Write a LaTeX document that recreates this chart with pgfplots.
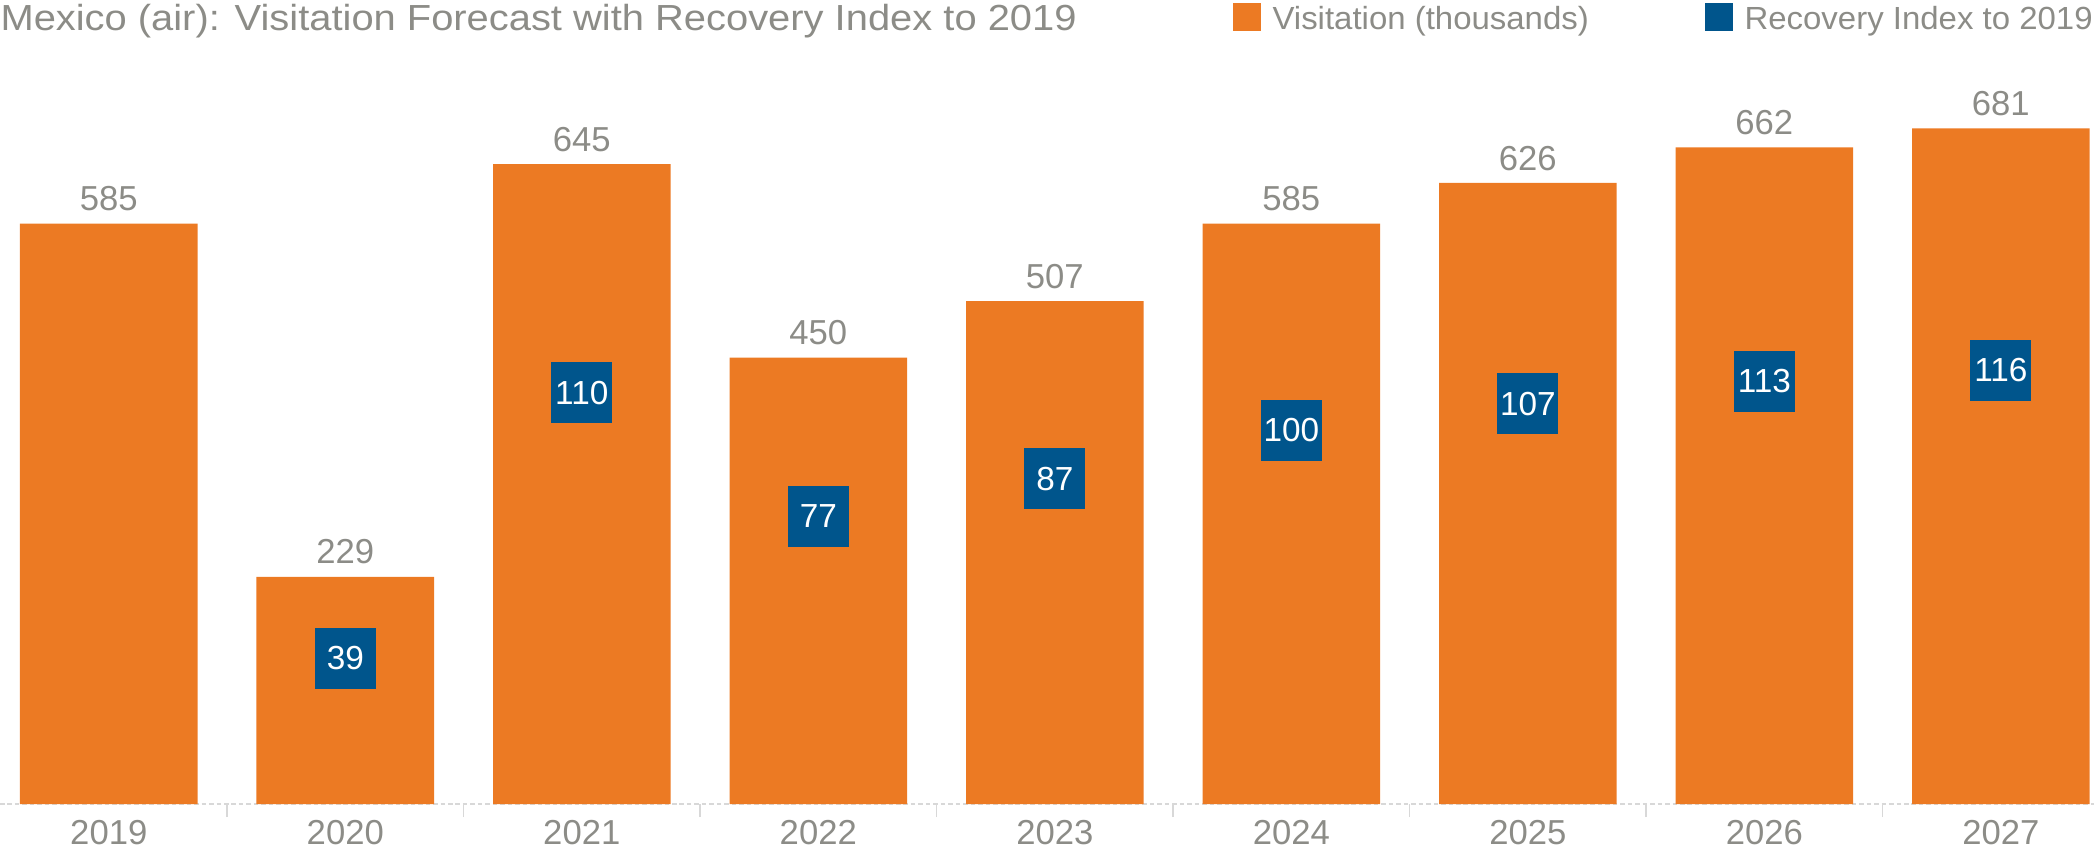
\documentclass[border=0pt]{standalone}
\usepackage{pgfplots}
\pgfplotsset{compat=1.18}
\usepackage{fontspec}
\setmainfont{Liberation Sans}
\newfontfamily\titlefont[FakeStretch=1.1]{Liberation Sans}
\newfontfamily\legendfont[FakeStretch=1.03]{Liberation Sans}
\definecolor{visorange}{HTML}{EC7A23}
\definecolor{recblue}{HTML}{00558C}
\definecolor{labelgray}{HTML}{8C8C87}
\definecolor{gridgray}{HTML}{D8D8D8}
\pgfplotsset{/pgf/number format/assume math mode=true}

\begin{document}
\begin{tikzpicture}[x=1pt,y=1pt]
\path[use as bounding box] (0,-16.875) rectangle (785.25,301.5);

% visitation bars (thousands)
\begin{axis}[
  at={(0,0)}, anchor=south west,
  scale only axis, width=785.25pt, height=271.5pt,
  xmin=-0.46, xmax=8.394, ymin=0, ymax=729.8,
  axis x line=bottom, axis y line=none,
  x axis line style={-, gridgray, dash pattern=on 1.7pt off 1.1pt, line width=0.4pt},
  ytick=\empty,
  xtick={0,...,8},
  xticklabels={2019,2020,2021,2022,2023,2024,2025,2026,2027},
  major tick length=0pt,
  minor xtick={0.5,1.5,...,7.5},
  minor tick length=4.9pt, tick align=outside,
  minor tick style={gridgray, line width=0.5pt},
  xticklabel style={font=\fontsize{13}{15}\selectfont, text=labelgray, inner sep=0pt, yshift=-6pt},
  ybar, bar width=66.6pt,
  nodes near coords,
  nodes near coords style={font=\fontsize{13}{15}\selectfont, text=labelgray, inner sep=0pt, yshift=4.5pt},
  clip=false,
]
\addplot[fill=visorange, draw=none] coordinates {
  (0,585) (1,229) (2,645) (3,450) (4,507) (5,585) (6,626) (7,662) (8,681)};
\end{axis}

% recovery index to 2019
\begin{axis}[
  at={(0,0)}, anchor=south west,
  scale only axis, width=785.25pt, height=271.5pt,
  xmin=-0.46, xmax=8.394, ymin=0, ymax=193.6,
  hide axis, clip=false,
]
\addplot[recblue, only marks, mark=square*, mark size=11.25pt,
  mark options={fill=recblue, draw=recblue, line width=0pt},
  nodes near coords,
  every node near coord/.append style={anchor=center, text=white,
    font=\fontsize{12.5}{14}\selectfont, inner sep=0pt}]
  coordinates {(1,39) (2,110) (3,77) (4,87) (5,100) (6,107) (7,113) (8,116)};
\end{axis}

\node[anchor=base west, inner sep=0pt, text=labelgray,
  font=\titlefont\fontsize{13.6}{16}\selectfont] at (0,289.9)
  {Mexico (air): Visitation Forecast with Recovery Index to 2019};

\fill[visorange] (462.4,289.9) rectangle (472.9,300.4);
\node[anchor=base west, inner sep=0pt, text=labelgray,
  font=\legendfont\fontsize{12}{14}\selectfont] at (477,290.6) {Visitation (thousands)};
\fill[recblue] (639.4,289.9) rectangle (649.9,300.4);
\node[anchor=base west, inner sep=0pt, text=labelgray,
  font=\legendfont\fontsize{12}{14}\selectfont] at (654,290.6) {Recovery Index to 2019};
\end{tikzpicture}
\end{document}
